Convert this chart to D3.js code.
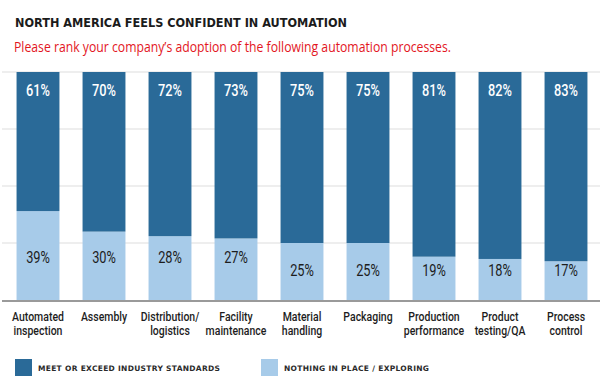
<!DOCTYPE html>
<html>
<head>
<meta charset="utf-8">
<script src="https://cdn.jsdelivr.net/npm/d3@7"></script>
<style>
  body { margin: 0; background: #fff; }
  svg { display: block; }
</style>
</head>
<body>
<div id="chart"></div>
<script>
const categories = [
    ['Automated', 'inspection'],
    ['Assembly'],
    ['Distribution/', 'logistics'],
    ['Facility', 'maintenance'],
    ['Material', 'handling'],
    ['Packaging'],
    ['Production', 'performance'],
    ['Product', 'testing/QA'],
    ['Process', 'control']
];
const meetValues = [61, 70, 72, 73, 75, 75, 81, 82, 83];
const nothingValues = [39, 30, 28, 27, 25, 25, 19, 18, 17];
const yTicks = [0, 25, 50, 75, 100];
const seriesNames = ['MEET OR EXCEED INDUSTRY STANDARDS', 'NOTHING IN PLACE / EXPLORING'];

const width = 600;
const height = 388;
const dark = '#2a6a98';
const light = '#a7cbe9';
const narrow = 'Roboto, "Noto Sans", sans-serif';

const svg = d3.select('#chart')
    .append('svg')
    .attr('width', width)
    .attr('height', height);

// title + subtitle
svg.append('text')
    .attr('x', 15)
    .attr('y', 27)
    .attr('textLength', 332)
    .attr('lengthAdjust', 'spacingAndGlyphs')
    .style('font-family', '"DejaVu Sans", sans-serif')
    .style('font-stretch', 'condensed')
    .style('font-weight', 'bold')
    .style('font-size', '12.5px')
    .style('fill', '#1b1b1b')
    .text('NORTH AMERICA FEELS CONFIDENT IN AUTOMATION');

svg.append('text')
    .attr('x', 14)
    .attr('y', 52)
    .attr('textLength', 437)
    .attr('lengthAdjust', 'spacingAndGlyphs')
    .style('font-family', '"Open Sans", sans-serif')
    .style('font-size', '15px')
    .style('fill', '#e3161e')
    .text('Please rank your company\u2019s adoption of the following automation processes.');

const x = d3.scaleBand()
    .domain(d3.range(categories.length))
    .range([5, 599])
    .paddingInner(0.35)
    .paddingOuter(0.175);

const y = d3.scaleLinear()
    .domain([0, 100])
    .range([300, 72]);

// gridlines
svg.append('g')
    .selectAll('line')
    .data(yTicks.filter(t => t > 0))
    .enter()
    .append('line')
    .attr('x1', 2)
    .attr('x2', 600)
    .attr('y1', d => y(d))
    .attr('y2', d => y(d))
    .attr('stroke', '#e9e9e9')
    .attr('stroke-width', 1.5);

// light (bottom) segments
svg.append('g')
    .selectAll('rect')
    .data(nothingValues)
    .enter()
    .append('rect')
    .attr('x', (d, i) => x(i))
    .attr('width', x.bandwidth())
    .attr('y', d => y(d))
    .attr('height', d => y(0) - y(d))
    .attr('fill', light);

// dark (top) segments
svg.append('g')
    .selectAll('rect')
    .data(meetValues)
    .enter()
    .append('rect')
    .attr('x', (d, i) => x(i))
    .attr('width', x.bandwidth())
    .attr('y', y(100))
    .attr('height', (d, i) => y(nothingValues[i]) - y(100))
    .attr('fill', dark);

// baseline
svg.append('line')
    .attr('x1', 2)
    .attr('x2', 600)
    .attr('y1', y(0) + 1)
    .attr('y2', y(0) + 1)
    .attr('stroke', '#9a9a9a')
    .attr('stroke-width', 2);

// value labels (squeezed horizontally to mimic a condensed face)
const cx = i => x(i) + x.bandwidth() / 2;

svg.append('g')
    .selectAll('text')
    .data(meetValues)
    .enter()
    .append('text')
    .attr('transform', (d, i) => `translate(${cx(i)}, ${y(100) + 24}) scale(0.8, 1)`)
    .attr('text-anchor', 'middle')
    .style('font-family', narrow)
    .style('font-size', '16px')
    .style('font-weight', 500)
    .style('fill', '#fff')
    .text(d => d + '%');

svg.append('g')
    .selectAll('text')
    .data(nothingValues)
    .enter()
    .append('text')
    .attr('transform', (d, i) => `translate(${cx(i)}, ${d > 26 ? 263 : 276}) scale(0.8, 1)`)
    .attr('text-anchor', 'middle')
    .style('font-family', narrow)
    .style('font-size', '16px')
    .style('fill', '#1d1d1d')
    .text(d => d + '%');

// category labels, one text per line
const catLines = [];
categories.forEach((lines, i) => {
    lines.forEach((t, j) => catLines.push({ i: i, j: j, t: t }));
});

svg.append('g')
    .selectAll('text')
    .data(catLines)
    .enter()
    .append('text')
    .attr('transform', d => `translate(${cx(d.i)}, ${321 + d.j * 14}) scale(0.84, 1)`)
    .attr('text-anchor', 'middle')
    .style('font-family', narrow)
    .style('font-size', '12.5px')
    .style('font-weight', 500)
    .style('fill', '#1d1d1d')
    .text(d => d.t);

// legend
const legendX = [15, 261];
const legendTextW = [182, 145];
const legendColors = [dark, light];
const legend = svg.append('g')
    .selectAll('g')
    .data(seriesNames)
    .enter()
    .append('g')
    .attr('transform', (d, i) => `translate(${legendX[i]}, 359)`);

legend.append('rect')
    .attr('width', 17)
    .attr('height', 17)
    .attr('fill', (d, i) => legendColors[i]);

legend.append('text')
    .attr('x', 23)
    .attr('y', 12)
    .attr('textLength', (d, i) => legendTextW[i])
    .attr('lengthAdjust', 'spacing')
    .style('font-family', '"DejaVu Sans", sans-serif')
    .style('font-size', '7.5px')
    .style('font-weight', 'bold')
    .style('fill', '#2a2a2a')
    .text(d => d);
</script>
</body>
</html>
